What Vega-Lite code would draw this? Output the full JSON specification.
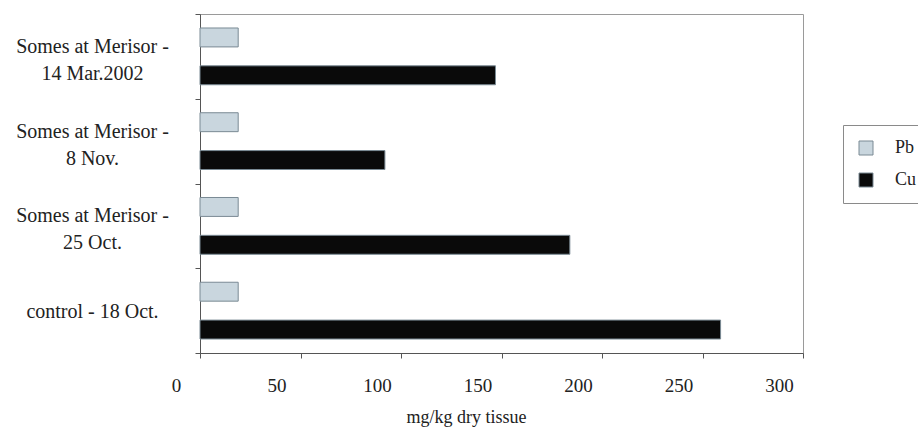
{
  "$schema": "https://vega.github.io/schema/vega-lite/v6.json",
  "autosize": "none",
  "width": 603,
  "height": 339,
  "padding": {"left": 200, "top": 14, "right": 115, "bottom": 82},
  "background": "white",
  "config": {
    "font": "'Liberation Serif', 'Times New Roman', serif",
    "axis": {"labelFont": "'Liberation Serif', 'Times New Roman', serif", "titleFont": "'Liberation Serif', 'Times New Roman', serif"},
    "legend": {"labelFont": "'Liberation Serif', 'Times New Roman', serif"},
    "view": {"stroke": "#9a9a9a", "strokeWidth": 1}
  },
  "data": {
    "values": [
      {"site": "Somes at Merisor -|14 Mar.2002", "metal": "Pb", "value": 19},
      {"site": "Somes at Merisor -|14 Mar.2002", "metal": "Cu", "value": 147},
      {"site": "Somes at Merisor -|8 Nov.", "metal": "Pb", "value": 19},
      {"site": "Somes at Merisor -|8 Nov.", "metal": "Cu", "value": 92},
      {"site": "Somes at Merisor -|25 Oct.", "metal": "Pb", "value": 19},
      {"site": "Somes at Merisor -|25 Oct.", "metal": "Cu", "value": 184},
      {"site": "control - 18 Oct.", "metal": "Pb", "value": 19},
      {"site": "control - 18 Oct.", "metal": "Cu", "value": 259}
    ]
  },
  "mark": {"type": "bar", "stroke": "#7a8a94", "strokeWidth": 1},
  "encoding": {
    "y": {
      "field": "site",
      "type": "nominal",
      "sort": ["Somes at Merisor -|14 Mar.2002", "Somes at Merisor -|8 Nov.", "Somes at Merisor -|25 Oct.", "control - 18 Oct."],
      "scale": {"paddingInner": 0, "paddingOuter": 0},
      "axis": {
        "title": null,
        "labelExpr": "split(datum.label, '|')",
        "labelAlign": "center",
        "labelBaseline": "middle",
        "labelPadding": 103,
        "labelFontSize": 20,
        "labelLineHeight": 27,
        "labelOffset": {"condition": {"test": "indexof(datum.label, '|') >= 0", "value": -10}, "value": 1},
        "labelColor": "#222",
        "labelLimit": 300,
        "tickBand": "extent",
        "tickSize": 5,
        "tickColor": "#555",
        "domainColor": "#555"
      }
    },
    "yOffset": {
      "field": "metal",
      "type": "nominal",
      "sort": ["Pb", "Cu"],
      "scale": {"paddingInner": 0.5, "paddingOuter": 0.37}
    },
    "x": {
      "field": "value",
      "type": "quantitative",
      "scale": {"domain": [0, 300], "nice": false},
      "axis": {
        "title": "mg/kg dry tissue",
        "values": [0, 50, 100, 150, 200, 250, 300],
        "grid": false,
        "tickSize": 5,
        "tickColor": "#555",
        "domainColor": "#555",
        "labelFontSize": 19,
        "labelColor": "#222",
        "labelPadding": 18,
        "labelOffset": -24,
        "labelFlush": false,
        "titleFontSize": 18,
        "titleFontWeight": "normal",
        "titleColor": "#222",
        "titlePadding": 13,
        "titleX": 266
      }
    },
    "color": {
      "field": "metal",
      "type": "nominal",
      "scale": {"domain": ["Pb", "Cu"], "range": ["#c9d6de", "#0a0a0a"]},
      "legend": {
        "title": null,
        "orient": "none",
        "legendX": 643,
        "legendY": 111,
        "strokeColor": "#8a8a8a",
        "padding": 14,
        "rowPadding": 14,
        "symbolType": "square",
        "symbolSize": 196,
        "symbolStrokeColor": "#7a8a94",
        "symbolStrokeWidth": 1,
        "labelFontSize": 18,
        "labelColor": "#222",
        "labelOffset": 20
      }
    }
  }
}
